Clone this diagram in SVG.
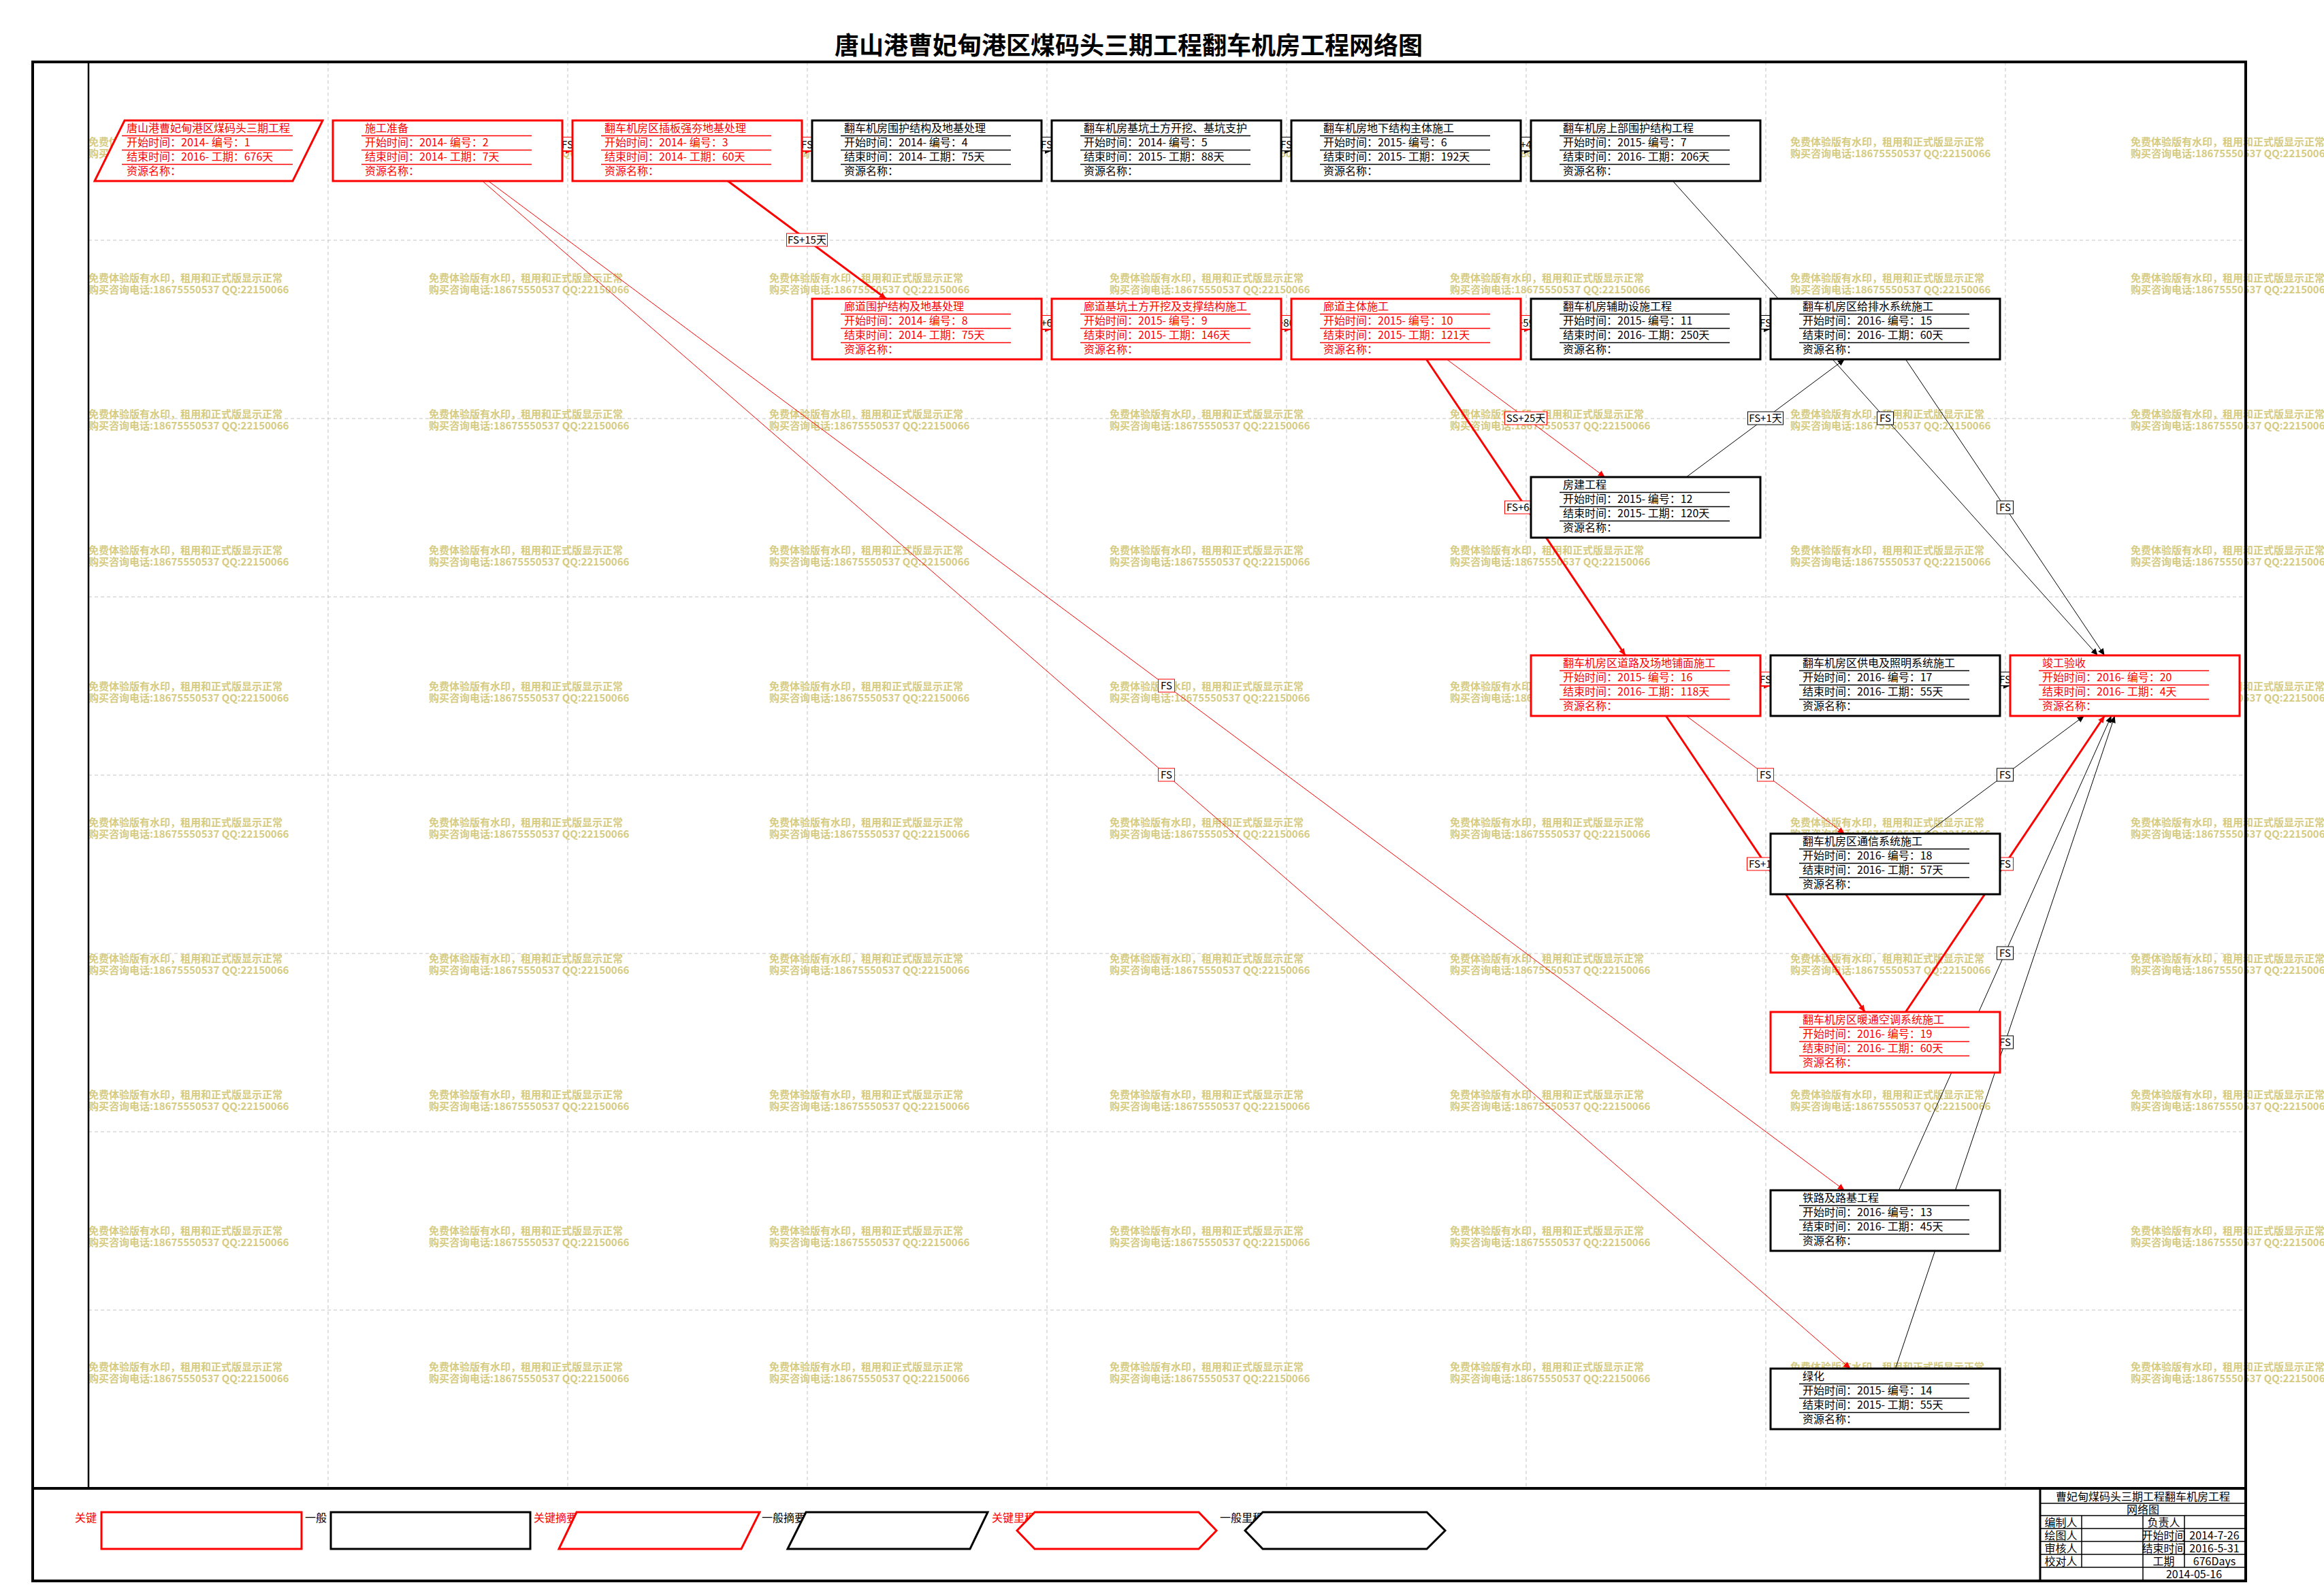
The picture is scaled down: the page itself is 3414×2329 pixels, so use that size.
<svg xmlns="http://www.w3.org/2000/svg" width="3414" height="2329" viewBox="0 0 3414 2329">
<defs>
<style>
text{font-family:"Noto Sans CJK SC","Noto Sans",sans-serif}
.grid{stroke:#c4c4c4;stroke-width:1;stroke-dasharray:5 4;fill:none}
.wm{font-size:15px;font-weight:bold;fill:#d6cb82}
.box{fill:#fff;stroke-width:3}
.crit .box{stroke:#f00}
.crit text{fill:#f00}
.crit line{stroke:#f00}
.norm .box{stroke:#000}
.norm text{fill:#000}
.norm line{stroke:#000}
.node text{font-size:16px}
.node line{stroke-width:1.5}
.lk{fill:none}
.tk{stroke:#f00;stroke-width:3;marker-end:url(#ar)}
.tr{stroke:#f00;stroke-width:1;marker-end:url(#ar)}
.tb{stroke:#000;stroke-width:1;marker-end:url(#ab)}
.tbh{stroke:#000;stroke-width:1.5;marker-end:url(#ab)}
.lbr{fill:#fff;stroke:#f00;stroke-width:1}
.lbb{fill:#fff;stroke:#000;stroke-width:1}
.lt{font-size:15px;fill:#000;text-anchor:middle}
.lts{font-size:15px;fill:#000}
.leg{font-size:16px}
.legr{fill:#fff;stroke:#f00;stroke-width:3}
.legb{fill:#fff;stroke:#000;stroke-width:3}
.tbk{font-size:16px;fill:#000;text-anchor:middle}
.tbl{stroke:#000;stroke-width:1.5}
</style>
<marker id="ar" markerUnits="userSpaceOnUse" markerWidth="10" markerHeight="10" viewBox="0 0 10 10" refX="10" refY="5" orient="auto"><path d="M0,0.5 L10,5 L0,9.5 z" fill="#f00"/></marker>
<marker id="ab" markerUnits="userSpaceOnUse" markerWidth="10" markerHeight="10" viewBox="0 0 10 10" refX="10" refY="5" orient="auto"><path d="M0,0.5 L10,5 L0,9.5 z" fill="#000"/></marker>
</defs>
<rect x="0" y="0" width="3414" height="2329" fill="#fff"/>

<g id="grid">
<path class="grid" d="M482,91V2187M834,91V2187M1186,91V2187M1538,91V2187M1890,91V2187M2242,91V2187M2594,91V2187M2946,91V2187"/>
<path class="grid" d="M130,353H3298M130,615H3298M130,877H3298M130,1139H3298M130,1401H3298M130,1663H3298M130,1925H3298"/>
</g>

<g id="watermarks" class="wm">
<text><tspan x="130" y="214">免费体验版有水印，租用和正式版显示正常</tspan><tspan x="130" y="231">购买咨询电话:18675550537 QQ:22150066</tspan><tspan x="130" y="414">免费体验版有水印，租用和正式版显示正常</tspan><tspan x="130" y="431">购买咨询电话:18675550537 QQ:22150066</tspan><tspan x="130" y="614">免费体验版有水印，租用和正式版显示正常</tspan><tspan x="130" y="631">购买咨询电话:18675550537 QQ:22150066</tspan><tspan x="130" y="814">免费体验版有水印，租用和正式版显示正常</tspan><tspan x="130" y="831">购买咨询电话:18675550537 QQ:22150066</tspan><tspan x="130" y="1014">免费体验版有水印，租用和正式版显示正常</tspan><tspan x="130" y="1031">购买咨询电话:18675550537 QQ:22150066</tspan><tspan x="130" y="1214">免费体验版有水印，租用和正式版显示正常</tspan><tspan x="130" y="1231">购买咨询电话:18675550537 QQ:22150066</tspan><tspan x="130" y="1414">免费体验版有水印，租用和正式版显示正常</tspan><tspan x="130" y="1431">购买咨询电话:18675550537 QQ:22150066</tspan><tspan x="130" y="1614">免费体验版有水印，租用和正式版显示正常</tspan><tspan x="130" y="1631">购买咨询电话:18675550537 QQ:22150066</tspan><tspan x="130" y="1814">免费体验版有水印，租用和正式版显示正常</tspan><tspan x="130" y="1831">购买咨询电话:18675550537 QQ:22150066</tspan><tspan x="130" y="2014">免费体验版有水印，租用和正式版显示正常</tspan><tspan x="130" y="2031">购买咨询电话:18675550537 QQ:22150066</tspan></text>
<text><tspan x="630" y="214">免费体验版有水印，租用和正式版显示正常</tspan><tspan x="630" y="231">购买咨询电话:18675550537 QQ:22150066</tspan><tspan x="630" y="414">免费体验版有水印，租用和正式版显示正常</tspan><tspan x="630" y="431">购买咨询电话:18675550537 QQ:22150066</tspan><tspan x="630" y="614">免费体验版有水印，租用和正式版显示正常</tspan><tspan x="630" y="631">购买咨询电话:18675550537 QQ:22150066</tspan><tspan x="630" y="814">免费体验版有水印，租用和正式版显示正常</tspan><tspan x="630" y="831">购买咨询电话:18675550537 QQ:22150066</tspan><tspan x="630" y="1014">免费体验版有水印，租用和正式版显示正常</tspan><tspan x="630" y="1031">购买咨询电话:18675550537 QQ:22150066</tspan><tspan x="630" y="1214">免费体验版有水印，租用和正式版显示正常</tspan><tspan x="630" y="1231">购买咨询电话:18675550537 QQ:22150066</tspan><tspan x="630" y="1414">免费体验版有水印，租用和正式版显示正常</tspan><tspan x="630" y="1431">购买咨询电话:18675550537 QQ:22150066</tspan><tspan x="630" y="1614">免费体验版有水印，租用和正式版显示正常</tspan><tspan x="630" y="1631">购买咨询电话:18675550537 QQ:22150066</tspan><tspan x="630" y="1814">免费体验版有水印，租用和正式版显示正常</tspan><tspan x="630" y="1831">购买咨询电话:18675550537 QQ:22150066</tspan><tspan x="630" y="2014">免费体验版有水印，租用和正式版显示正常</tspan><tspan x="630" y="2031">购买咨询电话:18675550537 QQ:22150066</tspan></text>
<text><tspan x="1130" y="214">免费体验版有水印，租用和正式版显示正常</tspan><tspan x="1130" y="231">购买咨询电话:18675550537 QQ:22150066</tspan><tspan x="1130" y="414">免费体验版有水印，租用和正式版显示正常</tspan><tspan x="1130" y="431">购买咨询电话:18675550537 QQ:22150066</tspan><tspan x="1130" y="614">免费体验版有水印，租用和正式版显示正常</tspan><tspan x="1130" y="631">购买咨询电话:18675550537 QQ:22150066</tspan><tspan x="1130" y="814">免费体验版有水印，租用和正式版显示正常</tspan><tspan x="1130" y="831">购买咨询电话:18675550537 QQ:22150066</tspan><tspan x="1130" y="1014">免费体验版有水印，租用和正式版显示正常</tspan><tspan x="1130" y="1031">购买咨询电话:18675550537 QQ:22150066</tspan><tspan x="1130" y="1214">免费体验版有水印，租用和正式版显示正常</tspan><tspan x="1130" y="1231">购买咨询电话:18675550537 QQ:22150066</tspan><tspan x="1130" y="1414">免费体验版有水印，租用和正式版显示正常</tspan><tspan x="1130" y="1431">购买咨询电话:18675550537 QQ:22150066</tspan><tspan x="1130" y="1614">免费体验版有水印，租用和正式版显示正常</tspan><tspan x="1130" y="1631">购买咨询电话:18675550537 QQ:22150066</tspan><tspan x="1130" y="1814">免费体验版有水印，租用和正式版显示正常</tspan><tspan x="1130" y="1831">购买咨询电话:18675550537 QQ:22150066</tspan><tspan x="1130" y="2014">免费体验版有水印，租用和正式版显示正常</tspan><tspan x="1130" y="2031">购买咨询电话:18675550537 QQ:22150066</tspan></text>
<text><tspan x="1630" y="214">免费体验版有水印，租用和正式版显示正常</tspan><tspan x="1630" y="231">购买咨询电话:18675550537 QQ:22150066</tspan><tspan x="1630" y="414">免费体验版有水印，租用和正式版显示正常</tspan><tspan x="1630" y="431">购买咨询电话:18675550537 QQ:22150066</tspan><tspan x="1630" y="614">免费体验版有水印，租用和正式版显示正常</tspan><tspan x="1630" y="631">购买咨询电话:18675550537 QQ:22150066</tspan><tspan x="1630" y="814">免费体验版有水印，租用和正式版显示正常</tspan><tspan x="1630" y="831">购买咨询电话:18675550537 QQ:22150066</tspan><tspan x="1630" y="1014">免费体验版有水印，租用和正式版显示正常</tspan><tspan x="1630" y="1031">购买咨询电话:18675550537 QQ:22150066</tspan><tspan x="1630" y="1214">免费体验版有水印，租用和正式版显示正常</tspan><tspan x="1630" y="1231">购买咨询电话:18675550537 QQ:22150066</tspan><tspan x="1630" y="1414">免费体验版有水印，租用和正式版显示正常</tspan><tspan x="1630" y="1431">购买咨询电话:18675550537 QQ:22150066</tspan><tspan x="1630" y="1614">免费体验版有水印，租用和正式版显示正常</tspan><tspan x="1630" y="1631">购买咨询电话:18675550537 QQ:22150066</tspan><tspan x="1630" y="1814">免费体验版有水印，租用和正式版显示正常</tspan><tspan x="1630" y="1831">购买咨询电话:18675550537 QQ:22150066</tspan><tspan x="1630" y="2014">免费体验版有水印，租用和正式版显示正常</tspan><tspan x="1630" y="2031">购买咨询电话:18675550537 QQ:22150066</tspan></text>
<text><tspan x="2130" y="214">免费体验版有水印，租用和正式版显示正常</tspan><tspan x="2130" y="231">购买咨询电话:18675550537 QQ:22150066</tspan><tspan x="2130" y="414">免费体验版有水印，租用和正式版显示正常</tspan><tspan x="2130" y="431">购买咨询电话:18675550537 QQ:22150066</tspan><tspan x="2130" y="614">免费体验版有水印，租用和正式版显示正常</tspan><tspan x="2130" y="631">购买咨询电话:18675550537 QQ:22150066</tspan><tspan x="2130" y="814">免费体验版有水印，租用和正式版显示正常</tspan><tspan x="2130" y="831">购买咨询电话:18675550537 QQ:22150066</tspan><tspan x="2130" y="1014">免费体验版有水印，租用和正式版显示正常</tspan><tspan x="2130" y="1031">购买咨询电话:18675550537 QQ:22150066</tspan><tspan x="2130" y="1214">免费体验版有水印，租用和正式版显示正常</tspan><tspan x="2130" y="1231">购买咨询电话:18675550537 QQ:22150066</tspan><tspan x="2130" y="1414">免费体验版有水印，租用和正式版显示正常</tspan><tspan x="2130" y="1431">购买咨询电话:18675550537 QQ:22150066</tspan><tspan x="2130" y="1614">免费体验版有水印，租用和正式版显示正常</tspan><tspan x="2130" y="1631">购买咨询电话:18675550537 QQ:22150066</tspan><tspan x="2130" y="1814">免费体验版有水印，租用和正式版显示正常</tspan><tspan x="2130" y="1831">购买咨询电话:18675550537 QQ:22150066</tspan><tspan x="2130" y="2014">免费体验版有水印，租用和正式版显示正常</tspan><tspan x="2130" y="2031">购买咨询电话:18675550537 QQ:22150066</tspan></text>
<text><tspan x="2630" y="214">免费体验版有水印，租用和正式版显示正常</tspan><tspan x="2630" y="231">购买咨询电话:18675550537 QQ:22150066</tspan><tspan x="2630" y="414">免费体验版有水印，租用和正式版显示正常</tspan><tspan x="2630" y="431">购买咨询电话:18675550537 QQ:22150066</tspan><tspan x="2630" y="614">免费体验版有水印，租用和正式版显示正常</tspan><tspan x="2630" y="631">购买咨询电话:18675550537 QQ:22150066</tspan><tspan x="2630" y="814">免费体验版有水印，租用和正式版显示正常</tspan><tspan x="2630" y="831">购买咨询电话:18675550537 QQ:22150066</tspan><tspan x="2630" y="1014">免费体验版有水印，租用和正式版显示正常</tspan><tspan x="2630" y="1031">购买咨询电话:18675550537 QQ:22150066</tspan><tspan x="2630" y="1214">免费体验版有水印，租用和正式版显示正常</tspan><tspan x="2630" y="1231">购买咨询电话:18675550537 QQ:22150066</tspan><tspan x="2630" y="1414">免费体验版有水印，租用和正式版显示正常</tspan><tspan x="2630" y="1431">购买咨询电话:18675550537 QQ:22150066</tspan><tspan x="2630" y="1614">免费体验版有水印，租用和正式版显示正常</tspan><tspan x="2630" y="1631">购买咨询电话:18675550537 QQ:22150066</tspan><tspan x="2630" y="1814">免费体验版有水印，租用和正式版显示正常</tspan><tspan x="2630" y="1831">购买咨询电话:18675550537 QQ:22150066</tspan><tspan x="2630" y="2014">免费体验版有水印，租用和正式版显示正常</tspan><tspan x="2630" y="2031">购买咨询电话:18675550537 QQ:22150066</tspan></text>
<text><tspan x="3130" y="214">免费体验版有水印，租用和正式版显示正常</tspan><tspan x="3130" y="231">购买咨询电话:18675550537 QQ:22150066</tspan><tspan x="3130" y="414">免费体验版有水印，租用和正式版显示正常</tspan><tspan x="3130" y="431">购买咨询电话:18675550537 QQ:22150066</tspan><tspan x="3130" y="614">免费体验版有水印，租用和正式版显示正常</tspan><tspan x="3130" y="631">购买咨询电话:18675550537 QQ:22150066</tspan><tspan x="3130" y="814">免费体验版有水印，租用和正式版显示正常</tspan><tspan x="3130" y="831">购买咨询电话:18675550537 QQ:22150066</tspan><tspan x="3130" y="1014">免费体验版有水印，租用和正式版显示正常</tspan><tspan x="3130" y="1031">购买咨询电话:18675550537 QQ:22150066</tspan><tspan x="3130" y="1214">免费体验版有水印，租用和正式版显示正常</tspan><tspan x="3130" y="1231">购买咨询电话:18675550537 QQ:22150066</tspan><tspan x="3130" y="1414">免费体验版有水印，租用和正式版显示正常</tspan><tspan x="3130" y="1431">购买咨询电话:18675550537 QQ:22150066</tspan><tspan x="3130" y="1614">免费体验版有水印，租用和正式版显示正常</tspan><tspan x="3130" y="1631">购买咨询电话:18675550537 QQ:22150066</tspan><tspan x="3130" y="1814">免费体验版有水印，租用和正式版显示正常</tspan><tspan x="3130" y="1831">购买咨询电话:18675550537 QQ:22150066</tspan><tspan x="3130" y="2014">免费体验版有水印，租用和正式版显示正常</tspan><tspan x="3130" y="2031">购买咨询电话:18675550537 QQ:22150066</tspan></text>
</g>

<g id="connectors">
<path class="lk tk" d="M826,221.5H841"/>
<path class="lk tk" d="M1178,221.5H1193"/>
<path class="lk tbh" d="M1530,221.5H1545"/>
<path class="lk tbh" d="M1882,221.5H1897"/>
<path class="lk tbh" d="M2234,221.5H2249"/>
<path class="lk tk" d="M1530,483.5H1545"/>
<path class="lk tk" d="M1882,483.5H1897"/>
<path class="lk tk" d="M2234,483.5H2249"/>
<path class="lk tbh" d="M2586,483.5H2601"/>
<path class="lk tk" d="M2586,1007.5H2601"/>
<path class="lk tbh" d="M2938,1007.5H2953"/>
<path class="lk tk" d="M1069.3,266L1301.7,439"/>
<path class="lk tr" d="M717.3,266L2709.7,1749"/>
<path class="lk tr" d="M708.7,266L2718.3,2011"/>
<path class="lk tr" d="M2125.3,528L2357.7,701"/>
<path class="lk tk" d="M2095.4,528L2387.6,963"/>
<path class="lk tb" d="M2477.3,701L2709.7,528"/>
<path class="lk tb" d="M2457.4,266L3081.6,963"/>
<path class="lk tb" d="M2799.4,528L3091.6,963"/>
<path class="lk tr" d="M2477.3,1052L2709.7,1225"/>
<path class="lk tk" d="M2447.4,1052L2739.6,1487"/>
<path class="lk tb" d="M2829.3,1225L3061.7,1052"/>
<path class="lk tk" d="M2799.4,1487L3091.6,1052"/>
<path class="lk tb" d="M2789.4,1749L3101.6,1052"/>
<path class="lk tb" d="M2784.4,2011L3106.6,1052"/>
<g id="labels">
<rect class="lbr" x="821.5" y="201.5" width="24" height="20"/><text class="lt" x="833.5" y="217.5">FS</text>
<rect class="lbr" x="1173.5" y="201.5" width="24" height="20"/><text class="lt" x="1185.5" y="217.5">FS</text>
<rect class="lbb" x="1525.5" y="201.5" width="24" height="20"/><text class="lt" x="1537.5" y="217.5">FS</text>
<rect class="lbb" x="1877.5" y="201.5" width="24" height="20"/><text class="lt" x="1889.5" y="217.5">FS</text>
<rect class="lbb" x="2229.5" y="201.5" width="24" height="20"/><text class="lt" x="2241.5" y="217.5">+4</text>
<rect class="lbr" x="1525.5" y="463.5" width="24" height="20"/><text class="lt" x="1537.5" y="479.5">+6</text>
<rect class="lbr" x="1877.5" y="463.5" width="24" height="20"/><text class="lt" x="1889.5" y="479.5">+80</text>
<rect class="lbr" x="2229.5" y="463.5" width="24" height="20"/><text class="lt" x="2241.5" y="479.5">+59</text>
<rect class="lbb" x="2581.5" y="463.5" width="24" height="20"/><text class="lt" x="2593.5" y="479.5">FS</text>
<rect class="lbr" x="2581.5" y="987.5" width="24" height="20"/><text class="lt" x="2593.5" y="1003.5">FS</text>
<rect class="lbb" x="2933.5" y="987.5" width="24" height="20"/><text class="lt" x="2945.5" y="1003.5">FS</text>
<rect class="lbr" x="1155.5" y="343" width="60" height="19"/><text class="lt" x="1185.5" y="358">FS+15天</text>
<rect class="lbr" x="1701.5" y="998" width="24" height="19"/><text class="lt" x="1713.5" y="1013">FS</text>
<rect class="lbr" x="1701.5" y="1129" width="24" height="19"/><text class="lt" x="1713.5" y="1144">FS</text>
<rect class="lbr" x="2210.5" y="605" width="62" height="19"/><text class="lt" x="2241.5" y="620">SS+25天</text>
<rect class="lbr" x="2210.5" y="736" width="60" height="19"/><text class="lts" x="2213" y="751">FS+68</text>
<rect class="lbb" x="2567.5" y="605" width="52" height="19"/><text class="lt" x="2593.5" y="620">FS+1天</text>
<rect class="lbb" x="2757.5" y="605" width="24" height="19"/><text class="lt" x="2769.5" y="620">FS</text>
<rect class="lbb" x="2933.5" y="736" width="24" height="19"/><text class="lt" x="2945.5" y="751">FS</text>
<rect class="lbr" x="2581.5" y="1129" width="24" height="19"/><text class="lt" x="2593.5" y="1144">FS</text>
<rect class="lbr" x="2566.5" y="1260" width="56" height="19"/><text class="lts" x="2569" y="1275">FS+1</text>
<rect class="lbb" x="2933.5" y="1129" width="24" height="19"/><text class="lt" x="2945.5" y="1144">FS</text>
<rect class="lbr" x="2933.5" y="1260" width="24" height="19"/><text class="lt" x="2945.5" y="1275">FS</text>
<rect class="lbb" x="2933.5" y="1391" width="24" height="19"/><text class="lt" x="2945.5" y="1406">FS</text>
<rect class="lbb" x="2933.5" y="1522" width="24" height="19"/><text class="lt" x="2945.5" y="1537">FS</text>
</g>
</g>

<g id="n1" class="node crit">
<polygon class="box" points="183,177 474,177 430,266 139,266"/>
<text x="186" y="194">唐山港曹妃甸港区煤码头三期工程</text>
<line x1="179" y1="199.5" x2="430" y2="199.5"/>
<text x="186" y="215">开始时间：2014- 编号：1</text>
<line x1="179" y1="220.5" x2="430" y2="220.5"/>
<text x="186" y="236">结束时间：2016- 工期：676天</text>
<line x1="179" y1="241.5" x2="430" y2="241.5"/>
<text x="186" y="257">资源名称：</text>
</g>

<g id="n2" class="node crit" transform="translate(489,177)">
<rect class="box" width="337" height="89"/>
<text x="47" y="17">施工准备</text><line x1="42" y1="22.5" x2="292" y2="22.5"/>
<text x="47" y="38">开始时间：2014- 编号：2</text><line x1="42" y1="43.5" x2="292" y2="43.5"/>
<text x="47" y="59">结束时间：2014- 工期：7天</text><line x1="42" y1="64.5" x2="292" y2="64.5"/>
<text x="47" y="80">资源名称：</text>
</g>
<g id="n3" class="node crit" transform="translate(841,177)">
<rect class="box" width="337" height="89"/>
<text x="47" y="17">翻车机房区插板强夯地基处理</text><line x1="42" y1="22.5" x2="292" y2="22.5"/>
<text x="47" y="38">开始时间：2014- 编号：3</text><line x1="42" y1="43.5" x2="292" y2="43.5"/>
<text x="47" y="59">结束时间：2014- 工期：60天</text><line x1="42" y1="64.5" x2="292" y2="64.5"/>
<text x="47" y="80">资源名称：</text>
</g>
<g id="n4" class="node norm" transform="translate(1193,177)">
<rect class="box" width="337" height="89"/>
<text x="47" y="17">翻车机房围护结构及地基处理</text><line x1="42" y1="22.5" x2="292" y2="22.5"/>
<text x="47" y="38">开始时间：2014- 编号：4</text><line x1="42" y1="43.5" x2="292" y2="43.5"/>
<text x="47" y="59">结束时间：2014- 工期：75天</text><line x1="42" y1="64.5" x2="292" y2="64.5"/>
<text x="47" y="80">资源名称：</text>
</g>
<g id="n5" class="node norm" transform="translate(1545,177)">
<rect class="box" width="337" height="89"/>
<text x="47" y="17">翻车机房基坑土方开挖、基坑支护</text><line x1="42" y1="22.5" x2="292" y2="22.5"/>
<text x="47" y="38">开始时间：2014- 编号：5</text><line x1="42" y1="43.5" x2="292" y2="43.5"/>
<text x="47" y="59">结束时间：2015- 工期：88天</text><line x1="42" y1="64.5" x2="292" y2="64.5"/>
<text x="47" y="80">资源名称：</text>
</g>
<g id="n6" class="node norm" transform="translate(1897,177)">
<rect class="box" width="337" height="89"/>
<text x="47" y="17">翻车机房地下结构主体施工</text><line x1="42" y1="22.5" x2="292" y2="22.5"/>
<text x="47" y="38">开始时间：2015- 编号：6</text><line x1="42" y1="43.5" x2="292" y2="43.5"/>
<text x="47" y="59">结束时间：2015- 工期：192天</text><line x1="42" y1="64.5" x2="292" y2="64.5"/>
<text x="47" y="80">资源名称：</text>
</g>
<g id="n7" class="node norm" transform="translate(2249,177)">
<rect class="box" width="337" height="89"/>
<text x="47" y="17">翻车机房上部围护结构工程</text><line x1="42" y1="22.5" x2="292" y2="22.5"/>
<text x="47" y="38">开始时间：2015- 编号：7</text><line x1="42" y1="43.5" x2="292" y2="43.5"/>
<text x="47" y="59">结束时间：2016- 工期：206天</text><line x1="42" y1="64.5" x2="292" y2="64.5"/>
<text x="47" y="80">资源名称：</text>
</g>
<g id="n8" class="node crit" transform="translate(1193,439)">
<rect class="box" width="337" height="89"/>
<text x="47" y="17">廊道围护结构及地基处理</text><line x1="42" y1="22.5" x2="292" y2="22.5"/>
<text x="47" y="38">开始时间：2014- 编号：8</text><line x1="42" y1="43.5" x2="292" y2="43.5"/>
<text x="47" y="59">结束时间：2014- 工期：75天</text><line x1="42" y1="64.5" x2="292" y2="64.5"/>
<text x="47" y="80">资源名称：</text>
</g>
<g id="n9" class="node crit" transform="translate(1545,439)">
<rect class="box" width="337" height="89"/>
<text x="47" y="17">廊道基坑土方开挖及支撑结构施工</text><line x1="42" y1="22.5" x2="292" y2="22.5"/>
<text x="47" y="38">开始时间：2015- 编号：9</text><line x1="42" y1="43.5" x2="292" y2="43.5"/>
<text x="47" y="59">结束时间：2015- 工期：146天</text><line x1="42" y1="64.5" x2="292" y2="64.5"/>
<text x="47" y="80">资源名称：</text>
</g>
<g id="n10" class="node crit" transform="translate(1897,439)">
<rect class="box" width="337" height="89"/>
<text x="47" y="17">廊道主体施工</text><line x1="42" y1="22.5" x2="292" y2="22.5"/>
<text x="47" y="38">开始时间：2015- 编号：10</text><line x1="42" y1="43.5" x2="292" y2="43.5"/>
<text x="47" y="59">结束时间：2015- 工期：121天</text><line x1="42" y1="64.5" x2="292" y2="64.5"/>
<text x="47" y="80">资源名称：</text>
</g>
<g id="n11" class="node norm" transform="translate(2249,439)">
<rect class="box" width="337" height="89"/>
<text x="47" y="17">翻车机房辅助设施工程</text><line x1="42" y1="22.5" x2="292" y2="22.5"/>
<text x="47" y="38">开始时间：2015- 编号：11</text><line x1="42" y1="43.5" x2="292" y2="43.5"/>
<text x="47" y="59">结束时间：2016- 工期：250天</text><line x1="42" y1="64.5" x2="292" y2="64.5"/>
<text x="47" y="80">资源名称：</text>
</g>
<g id="n15" class="node norm" transform="translate(2601,439)">
<rect class="box" width="337" height="89"/>
<text x="47" y="17">翻车机房区给排水系统施工</text><line x1="42" y1="22.5" x2="292" y2="22.5"/>
<text x="47" y="38">开始时间：2016- 编号：15</text><line x1="42" y1="43.5" x2="292" y2="43.5"/>
<text x="47" y="59">结束时间：2016- 工期：60天</text><line x1="42" y1="64.5" x2="292" y2="64.5"/>
<text x="47" y="80">资源名称：</text>
</g>
<g id="n12" class="node norm" transform="translate(2249,701)">
<rect class="box" width="337" height="89"/>
<text x="47" y="17">房建工程</text><line x1="42" y1="22.5" x2="292" y2="22.5"/>
<text x="47" y="38">开始时间：2015- 编号：12</text><line x1="42" y1="43.5" x2="292" y2="43.5"/>
<text x="47" y="59">结束时间：2015- 工期：120天</text><line x1="42" y1="64.5" x2="292" y2="64.5"/>
<text x="47" y="80">资源名称：</text>
</g>
<g id="n16" class="node crit" transform="translate(2249,963)">
<rect class="box" width="337" height="89"/>
<text x="47" y="17">翻车机房区道路及场地铺面施工</text><line x1="42" y1="22.5" x2="292" y2="22.5"/>
<text x="47" y="38">开始时间：2015- 编号：16</text><line x1="42" y1="43.5" x2="292" y2="43.5"/>
<text x="47" y="59">结束时间：2016- 工期：118天</text><line x1="42" y1="64.5" x2="292" y2="64.5"/>
<text x="47" y="80">资源名称：</text>
</g>
<g id="n17" class="node norm" transform="translate(2601,963)">
<rect class="box" width="337" height="89"/>
<text x="47" y="17">翻车机房区供电及照明系统施工</text><line x1="42" y1="22.5" x2="292" y2="22.5"/>
<text x="47" y="38">开始时间：2016- 编号：17</text><line x1="42" y1="43.5" x2="292" y2="43.5"/>
<text x="47" y="59">结束时间：2016- 工期：55天</text><line x1="42" y1="64.5" x2="292" y2="64.5"/>
<text x="47" y="80">资源名称：</text>
</g>
<g id="n20" class="node crit" transform="translate(2953,963)">
<rect class="box" width="337" height="89"/>
<text x="47" y="17">竣工验收</text><line x1="42" y1="22.5" x2="292" y2="22.5"/>
<text x="47" y="38">开始时间：2016- 编号：20</text><line x1="42" y1="43.5" x2="292" y2="43.5"/>
<text x="47" y="59">结束时间：2016- 工期：4天</text><line x1="42" y1="64.5" x2="292" y2="64.5"/>
<text x="47" y="80">资源名称：</text>
</g>
<g id="n18" class="node norm" transform="translate(2601,1225)">
<rect class="box" width="337" height="89"/>
<text x="47" y="17">翻车机房区通信系统施工</text><line x1="42" y1="22.5" x2="292" y2="22.5"/>
<text x="47" y="38">开始时间：2016- 编号：18</text><line x1="42" y1="43.5" x2="292" y2="43.5"/>
<text x="47" y="59">结束时间：2016- 工期：57天</text><line x1="42" y1="64.5" x2="292" y2="64.5"/>
<text x="47" y="80">资源名称：</text>
</g>
<g id="n19" class="node crit" transform="translate(2601,1487)">
<rect class="box" width="337" height="89"/>
<text x="47" y="17">翻车机房区暖通空调系统施工</text><line x1="42" y1="22.5" x2="292" y2="22.5"/>
<text x="47" y="38">开始时间：2016- 编号：19</text><line x1="42" y1="43.5" x2="292" y2="43.5"/>
<text x="47" y="59">结束时间：2016- 工期：60天</text><line x1="42" y1="64.5" x2="292" y2="64.5"/>
<text x="47" y="80">资源名称：</text>
</g>
<g id="n13" class="node norm" transform="translate(2601,1749)">
<rect class="box" width="337" height="89"/>
<text x="47" y="17">铁路及路基工程</text><line x1="42" y1="22.5" x2="292" y2="22.5"/>
<text x="47" y="38">开始时间：2016- 编号：13</text><line x1="42" y1="43.5" x2="292" y2="43.5"/>
<text x="47" y="59">结束时间：2016- 工期：45天</text><line x1="42" y1="64.5" x2="292" y2="64.5"/>
<text x="47" y="80">资源名称：</text>
</g>
<g id="n14" class="node norm" transform="translate(2601,2011)">
<rect class="box" width="337" height="89"/>
<text x="47" y="17">绿化</text><line x1="42" y1="22.5" x2="292" y2="22.5"/>
<text x="47" y="38">开始时间：2015- 编号：14</text><line x1="42" y1="43.5" x2="292" y2="43.5"/>
<text x="47" y="59">结束时间：2015- 工期：55天</text><line x1="42" y1="64.5" x2="292" y2="64.5"/>
<text x="47" y="80">资源名称：</text>
</g>

<g id="legend">
<text class="leg" x="110" y="2236" fill="#f00">关键</text>
<rect class="legr" x="149" y="2222" width="294" height="54"/>
<text class="leg" x="448" y="2236" fill="#000">一般</text>
<rect class="legb" x="486" y="2222" width="293" height="54"/>
<text class="leg" x="784" y="2236" fill="#f00">关键摘要</text>
<polygon class="legr" points="847,2222 1116,2222 1089,2276 821,2276"/>
<text class="leg" x="1119" y="2236" fill="#000">一般摘要</text>
<polygon class="legb" points="1184,2222 1451,2222 1425,2276 1157,2276"/>
<text class="leg" x="1457" y="2236" fill="#f00">关键里程</text>
<polygon class="legr" points="1520,2222 1761,2222 1787,2249 1761,2276 1520,2276 1494,2249"/>
<text class="leg" x="1792" y="2236" fill="#000">一般里程</text>
<polygon class="legb" points="1855,2222 2096,2222 2123,2249 2096,2276 1855,2276 1829,2249"/>
</g>

<g id="titleblock">
<line x1="2997" y1="2187" x2="2997" y2="2324" stroke="#000" stroke-width="3"/>
<path class="tbl" fill="none" d="M2997,2209H3298M2997,2227H3298M2997,2246H3298M2997,2265H3298M2997,2284H3298M2997,2303H3298M3058,2227V2303M3148,2227V2324M3209,2227V2303"/>
<text class="tbk" x="3148" y="2205">曹妃甸煤码头三期工程翻车机房工程</text>
<text class="tbk" x="3148" y="2224">网络图</text>
<text class="tbk" x="3027.5" y="2243">编制人</text>
<text class="tbk" x="3178.5" y="2243">负责人</text>
<text class="tbk" x="3027.5" y="2262">绘图人</text>
<text class="tbk" x="3178.5" y="2262">开始时间</text>
<text class="tbk" x="3253" y="2262">2014-7-26</text>
<text class="tbk" x="3027.5" y="2281">审核人</text>
<text class="tbk" x="3178.5" y="2281">结束时间</text>
<text class="tbk" x="3253" y="2281">2016-5-31</text>
<text class="tbk" x="3027.5" y="2300">校对人</text>
<text class="tbk" x="3178.5" y="2300">工期</text>
<text class="tbk" x="3253" y="2300">676Days</text>
<text class="tbk" x="3223" y="2319">2014-05-16</text>
</g>

<g id="frame" fill="none" stroke="#000">
<rect x="48" y="91" width="3251" height="2232" stroke-width="4"/>
<line x1="130" y1="91" x2="130" y2="2187" stroke-width="2.5"/>
<line x1="48" y1="2187" x2="3299" y2="2187" stroke-width="4"/>
</g>

<text id="title" x="1658" y="80" text-anchor="middle" font-size="36" font-weight="bold" fill="#000">唐山港曹妃甸港区煤码头三期工程翻车机房工程网络图</text>
</svg>
